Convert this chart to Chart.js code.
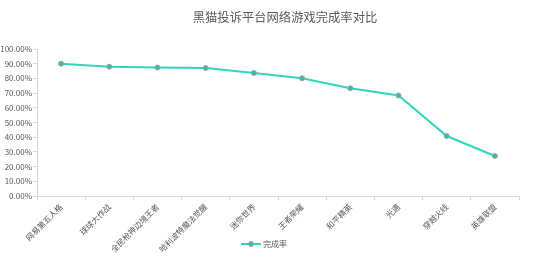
<!DOCTYPE html>
<html><head><meta charset="utf-8">
<script src="https://cdn.jsdelivr.net/npm/chart.js@4/dist/chart.umd.min.js"></script>
<style>html,body{margin:0;padding:0;background:#fff;}#wrap{width:550px;height:258px;}</style>
</head><body><div id="wrap"><canvas id="c" width="550" height="258"></canvas></div>
<script>
const categories = ['网易第五人格','球球大作战','全民枪神边境王者','哈利波特魔法觉醒','迷你世界','王者荣耀','和平精英','光遇','穿越火线','英雄联盟'];
const completionRate = [90.0, 88.0, 87.4, 87.1, 83.7, 80.1, 73.3, 68.4, 40.8, 27.2];
const seriesName = '完成率';
const titleText = '黑猫投诉平台网络游戏完成率对比';

const FONT = '"Noto Sans CJK SC", "Noto Sans", sans-serif';
const LINE = '#2fd6bd', PT = '#3bb8a6';

const decorPlugin = { id: 'decor', afterDraw(chart) {
  const c = chart.ctx; c.save();
  // title
  c.font = '12.3px ' + FONT; c.fillStyle = '#595959'; c.textAlign = 'center'; c.textBaseline = 'middle';
  c.fillText(titleText, 285, 17);
  // legend (series name with line+marker)
  const ds = chart.data.datasets[0];
  const y = 244;
  c.strokeStyle = ds.borderColor; c.lineWidth = 2;
  c.beginPath(); c.moveTo(241, y); c.lineTo(261, y); c.stroke();
  c.fillStyle = ds.pointBackgroundColor; c.strokeStyle = ds.pointBorderColor; c.lineWidth = 1;
  c.beginPath(); c.arc(251, y, 2.5, 0, Math.PI * 2); c.fill(); c.stroke();
  c.font = '8px ' + FONT; c.fillStyle = '#595959'; c.textAlign = 'left';
  c.fillText(ds.label, 263, y);
  c.restore(); } };

new Chart(document.getElementById('c'), {
  type: 'line',
  data: { labels: categories, datasets: [{
    label: seriesName, data: completionRate,
    borderColor: LINE, backgroundColor: PT,
    borderWidth: 2, pointRadius: 2.5, pointBackgroundColor: PT,
    pointBorderColor: '#9aa8a6', pointBorderWidth: 1, tension: 0
  }]},
  plugins: [decorPlugin],
  options: {
    responsive: false, animation: false,
    layout: { padding: { left: 0, right: 31, top: 49, bottom: 0 } },
    plugins: {
      title: { display: false },
      legend: { display: false },
      tooltip: { enabled: false }
    },
    scales: {
      x: { offset: true,
        afterFit: s => { s.height = 62; },
        grid: { offset: true, drawOnChartArea: false, drawTicks: true, tickLength: 4, color: '#d9d9d9' },
        border: { color: '#d9d9d9' },
        ticks: { color: '#595959', font: { family: FONT, size: 8 }, minRotation: 45, maxRotation: 45, padding: 2 } },
      y: { min: 0, max: 100,
        afterFit: s => { s.width = 37; },
        grid: { drawOnChartArea: false, drawTicks: true, tickLength: 4, color: '#d9d9d9' },
        border: { color: '#d9d9d9' },
        ticks: { stepSize: 10, color: '#595959', font: { family: FONT, size: 8 }, padding: 1,
          callback: v => v.toFixed(2) + '%' } }
    }
  }
});
</script></body></html>
